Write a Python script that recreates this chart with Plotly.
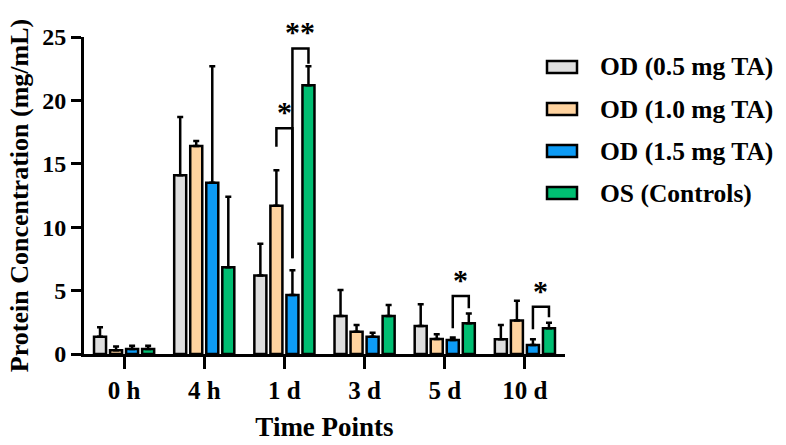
import plotly.graph_objects as go

categories = ["0 h", "4 h", "1 d", "3 d", "5 d", "10 d"]
series_names = ["OD (0.5 mg TA)", "OD (1.0 mg TA)", "OD (1.5 mg TA)", "OS (Controls)"]
od05_mean = [1.36, 14.1, 6.2, 3.0, 2.2, 1.16]
od05_sd = [0.74, 4.6, 2.5, 2.05, 1.72, 1.13]
od10_mean = [0.3, 16.4, 11.7, 1.76, 1.18, 2.65]
od10_sd = [0.3, 0.4, 2.8, 0.53, 0.37, 1.55]
od15_mean = [0.4, 13.5, 4.65, 1.37, 1.1, 0.71]
od15_sd = [0.25, 9.2, 1.95, 0.31, 0.2, 0.45]
os_mean = [0.4, 6.84, 21.2, 3.0, 2.42, 2.03]
os_sd = [0.25, 5.56, 1.5, 0.86, 0.78, 0.44]
colors = ["#DEDEDE", "#FFD39F", "#0D9BF5", "#00BE72"]

means = [od05_mean, od10_mean, od15_mean, os_mean]
sds = [od05_sd, od10_sd, od15_sd, os_sd]

FONT = "Liberation Serif"
xs = list(range(len(categories)))

fig = go.Figure()
for name, m, s, c in zip(series_names, means, sds, colors):
    fig.add_trace(go.Bar(
        x=xs, y=m, name=name,
        marker=dict(color=c, line=dict(color="black", width=2.5)),
        error_y=dict(type="data", array=s, arrayminus=[0] * len(s), symmetric=False,
                     color="black", thickness=2.5, width=3),
        showlegend=False,
    ))

# significance brackets: (category index, left offset, right offset, top, left bottom, right bottom, label)
brackets = [
    (2, -0.1, 0.1, 17.8, 16.35, 7.55, "*"),
    (2, 0.1, 0.3, 24.1, 7.55, 22.9, "**"),
    (4, 0.1, 0.3, 4.57, 2.03, 3.6, "*"),
    (5, 0.1, 0.3, 3.73, 1.95, 2.9, "*"),
]
for ci, lo, ro, top, lb, rb, lab in brackets:
    xl, xr = ci + lo, ci + ro
    fig.add_shape(type="path",
                  path=f"M {xl},{lb} L {xl},{top} L {xr},{top} L {xr},{rb}",
                  xref="x", yref="y", line=dict(color="black", width=2.5))
    fig.add_annotation(x=(xl + xr) / 2, y=top, xref="x", yref="y", text=f"<b>{lab}</b>",
                       showarrow=False, yanchor="bottom", yshift=-2,
                       font=dict(family=FONT, size=30, color="black"))

# manual legend with wide swatches
for i, (name, c) in enumerate(zip(series_names, colors)):
    py = 67 + i * 42
    yp = (354 - py) / 317
    fig.add_shape(type="rect", xref="paper", yref="paper",
                  x0=(547 - 84) / 481, x1=(577 - 84) / 481,
                  y0=yp - 6 / 317, y1=yp + 6 / 317,
                  fillcolor=c, line=dict(color="black", width=2.5))
    fig.add_annotation(xref="paper", yref="paper", x=(598 - 84) / 481, y=yp,
                       xanchor="left", yanchor="middle", text=f"<b>{name}</b>",
                       showarrow=False, font=dict(family=FONT, size=25.5, color="black"))

fig.update_layout(
    width=786, height=445,
    margin=dict(l=84, r=221, t=37, b=91),
    paper_bgcolor="white", plot_bgcolor="white",
    barmode="group", bargap=0.2, bargroupgap=0.25,
    font=dict(family=FONT, color="black"),
    xaxis=dict(
        range=[-0.5, 5.5], tickmode="array", tickvals=xs,
        ticktext=[f"<b>{c}</b>" for c in categories],
        showline=True, linewidth=3, linecolor="black",
        ticks="outside", ticklen=12, tickwidth=3, tickcolor="black",
        showgrid=False, zeroline=False, automargin=False,
        tickfont=dict(family=FONT, size=25, color="black"),
        title=dict(text="<b>Time Points</b>", standoff=15,
                   font=dict(family=FONT, size=27, color="black")),
    ),
    yaxis=dict(
        range=[0, 25], tickvals=[0, 5, 10, 15, 20, 25],
        ticktext=["<b>0</b>", "<b>5</b>", "<b>10</b>", "<b>15</b>", "<b>20</b>", "<b>25</b>"],
        showline=True, linewidth=3, linecolor="black",
        ticks="outside", ticklen=10, tickwidth=3, tickcolor="black",
        showgrid=False, zeroline=False, automargin=False,
        tickfont=dict(family=FONT, size=24, color="black"),
        title=dict(text="<b>Protein Concentration (mg/mL)</b>", standoff=7,
                   font=dict(family=FONT, size=26, color="black")),
    ),
)

fig.write_html("out.html")
